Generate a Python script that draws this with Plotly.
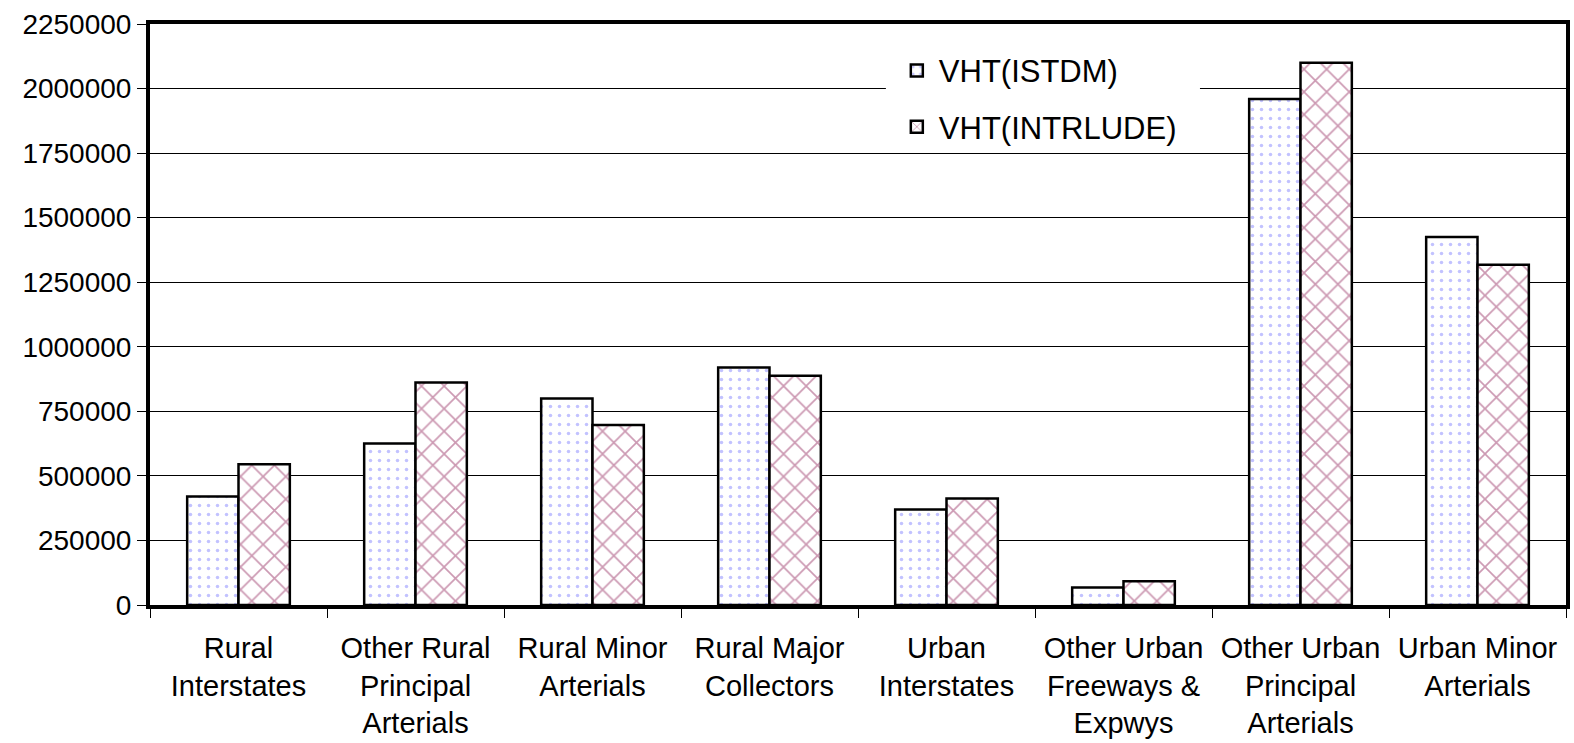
import plotly.graph_objects as go

# Road functional classes (x-axis categories, wrapped onto several lines)
categories = [
    "Rural<br>Interstates",
    "Other Rural<br>Principal<br>Arterials",
    "Rural Minor<br>Arterials",
    "Rural Major<br>Collectors",
    "Urban<br>Interstates",
    "Other Urban<br>Freeways &<br>Expwys",
    "Other Urban<br>Principal<br>Arterials",
    "Urban Minor<br>Arterials",
]

# Vehicle hours travelled by model
vht_istdm = [420000, 625000, 800000, 920000, 370000, 68000, 1960000, 1425000]
vht_intrlude = [545000, 862000, 697000, 888000, 412000, 92000, 2100000, 1318000]

y_ticks = [0, 250000, 500000, 750000, 1000000, 1250000, 1500000, 1750000, 2000000, 2250000]

FONT = "Liberation Sans, Arial, sans-serif"

fig = go.Figure()
fig.add_trace(go.Bar(
    x=categories, y=vht_istdm, name="VHT(ISTDM)", legendgroup="a",
    marker=dict(
        color="white",
        line=dict(color="black", width=2.5),
        pattern=dict(shape=".", fgcolor="#8585ff", bgcolor="white",
                     size=9, solidity=0.12, fillmode="overlay"),
    ),
))
fig.add_trace(go.Bar(
    x=categories, y=vht_intrlude, name="VHT(INTRLUDE)", legendgroup="b",
    marker=dict(
        color="white",
        line=dict(color="black", width=2.5),
        pattern=dict(shape="x", fgcolor="#993366", bgcolor="white",
                     size=16, solidity=0.2, fillmode="overlay"),
    ),
))

# White panel behind the legend, masking the gridline it sits on
fig.add_shape(
    type="rect", xref="paper", yref="paper",
    x0=0.5197, x1=0.7415, y0=0.785, y1=0.965,
    fillcolor="white", line=dict(width=0), layer="above",
)

fig.update_layout(
    width=1574, height=743,
    margin=dict(l=150, r=4, t=24, b=137),
    paper_bgcolor="white", plot_bgcolor="white",
    font=dict(family=FONT, size=28, color="black"),
    barmode="group", bargap=0.42, bargroupgap=0,
    showlegend=True,
    legend=dict(
        x=0.526, y=0.966, xanchor="left", yanchor="top",
        bgcolor="rgba(0,0,0,0)", borderwidth=0,
        font=dict(family=FONT, size=31, color="black"),
        traceorder="grouped", tracegroupgap=13,
        itemwidth=34,
    ),
)

fig.update_xaxes(
    type="category",
    showgrid=False,
    showline=True, linecolor="black", linewidth=4, mirror=True,
    ticks="outside", ticklen=9, tickwidth=1, tickcolor="black",
    tickson="boundaries",
    ticklabelstandoff=14,
    tickfont=dict(family=FONT, size=29, color="black"),
)
fig.update_yaxes(
    range=[0, 2250000],
    tickvals=y_ticks, ticktext=[str(v) for v in y_ticks],
    showgrid=True, gridcolor="black", gridwidth=1,
    showline=True, linecolor="black", linewidth=4, mirror=True,
    ticks="outside", ticklen=9, tickwidth=1, tickcolor="black",
    zeroline=False,
    tickfont=dict(family=FONT, size=28, color="black"),
)

fig.write_html("out.html")
